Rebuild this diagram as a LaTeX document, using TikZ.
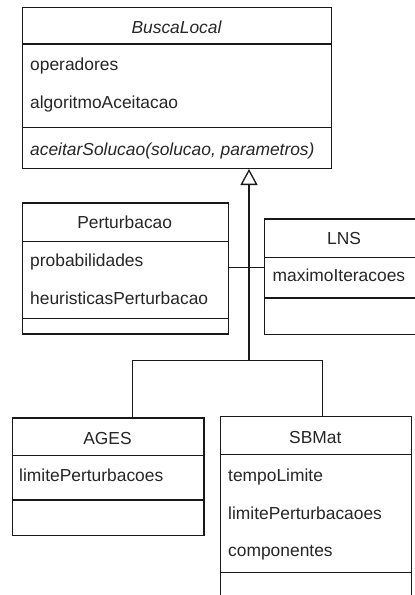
\documentclass[tikz,border=0pt]{standalone}
\usepackage{fontspec}
\setmainfont{Liberation Sans}
\usetikzlibrary{arrows.meta}

% one compartment of a class box: name, left, top, width, height
\newcommand\umlpart[5]{%
  \node[compart, minimum width=#4pt, minimum height=#5pt] (#1) at (#2,#3) {};}

\begin{document}
\begin{tikzpicture}[x=1pt, y=-1pt,
  font=\fontsize{17.4pt}{20pt}\selectfont,
  compart/.style={draw=black!90, line width=1.3pt, inner sep=0pt, anchor=north west, fill=white},
  attr/.style={inner sep=0pt, anchor=base west, text=black!85},
  title/.style={inner sep=0pt, anchor=base, text=black!85},
  link/.style={draw=black!90, line width=1.3pt},
  generalization/.style={link, -{Triangle[open, length=16pt, width=17pt, fill=white]}}]

\clip (0,0) rectangle (415,595);
\fill[white] (0,0) rectangle (415,595);

% ---- BuscaLocal (abstract) ----
\umlpart{buscaH}{22}{6.7}{309}{36.6}
\umlpart{buscaA}{22}{43.3}{309}{83.4}
\umlpart{buscaM}{22}{126.7}{309}{41}
\node[title] (buscaT) at (176.5,33.3) {\itshape BuscaLocal};
\node[attr] (buscaA1) at (30,70) {operadores};
\node[attr] (buscaA2) at (30,108) {algoritmoAceitacao};
\node[attr] (buscaM1) at (30,155) {\itshape aceitarSolucao(solucao, parametros)};

% ---- Perturbacao ----
\umlpart{pertH}{21.7}{202.3}{206}{38.7}
\umlpart{pertA}{21.7}{241}{206}{76.7}
\umlpart{pertM}{21.7}{317.7}{206}{15.6}
\node[title] (pertT) at (124.7,228.3) {Perturbacao};
\node[attr] (pertA1) at (30,266.7) {probabilidades};
\node[attr] (pertA2) at (30,304) {heuristicasPerturbacao};

% ---- LNS ----
\umlpart{lnsH}{264}{218.3}{160}{38.4}
\umlpart{lnsA}{264}{256.7}{160}{40.6}
\umlpart{lnsM}{264}{297.3}{160}{36.7}
\node[title] (lnsT) at (344,244.3) {LNS};
\node[attr] (lnsA1) at (272.5,281.7) {maximoIteracoes};

% ---- AGES ----
\umlpart{agesH}{11.7}{417.3}{191.6}{37.7}
\umlpart{agesA}{11.7}{455}{191.6}{44.3}
\umlpart{agesM}{11.7}{499.3}{191.6}{35.7}
\node[title] (agesT) at (107.5,444) {AGES};
\node[attr] (agesA1) at (19,481.7) {limitePerturbacoes};

% ---- SBMat ----
\umlpart{sbH}{220}{415.7}{190.7}{38.3}
\umlpart{sbA}{220}{454}{190.7}{117.7}
\umlpart{sbM}{220}{571.7}{190.7}{40}
\node[title] (sbT) at (315.3,443.3) {SBMat};
\node[attr] (sbA1) at (228,481.7) {tempoLimite};
\node[attr] (sbA2) at (228,519.2) {limitePerturbacaoes};
\node[attr] (sbA3) at (228,556.7) {componentes};

% ---- generalization tree ----
\coordinate (axis) at (249,0);
\coordinate (agesTap) at (132.3,0);
\coordinate (sbTap) at (322.7,0);
\coordinate (busY) at (0,360.7);
\coordinate (sideY) at (0,267.5);

\draw[link] (pertA.east |- sideY) -- (lnsA.west |- sideY);
\draw[link] (agesH.north -| agesTap) |- (busY -| sbTap) -- (sbH.north -| sbTap);
\draw[generalization] (busY -| axis) -- (buscaM.south -| axis);

\end{tikzpicture}
\end{document}
